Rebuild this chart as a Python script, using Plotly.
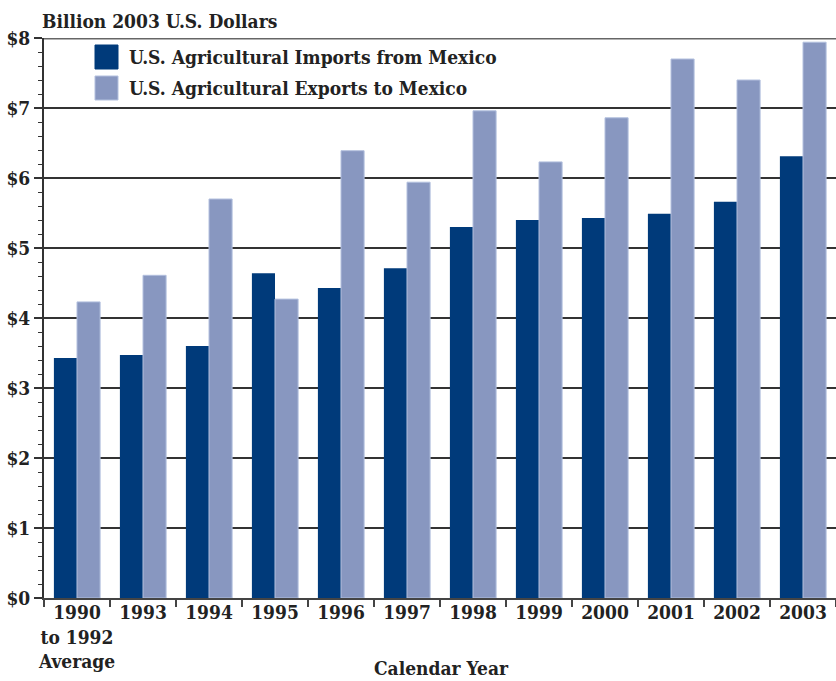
import plotly.graph_objects as go

categories = ["1990<br>to 1992<br>Average", "1993", "1994", "1995", "1996", "1997",
              "1998", "1999", "2000", "2001", "2002", "2003"]
imports_mx = [3.43, 3.47, 3.60, 4.64, 4.43, 4.71, 5.30, 5.40, 5.43, 5.49, 5.66, 6.31]
exports_mx = [4.23, 4.61, 5.70, 4.27, 6.39, 5.94, 6.96, 6.23, 6.86, 7.70, 7.40, 7.94]
y_ticks = [0, 1, 2, 3, 4, 5, 6, 7, 8]
y_labels = ["$" + str(v) for v in y_ticks]

C_IMP = "#003a7a"
C_EXP = "#8897c0"
FONT = "DejaVu Serif Condensed"
FS = 19

fig = go.Figure()
fig.add_trace(go.Bar(x=categories, y=imports_mx, name="U.S. Agricultural Imports from Mexico",
                     marker=dict(color=C_IMP, line=dict(width=0))))
fig.add_trace(go.Bar(x=categories, y=exports_mx, name="U.S. Agricultural Exports to Mexico",
                     marker=dict(color=C_EXP, line=dict(width=1, color="#b3c0de"))))

fig.update_layout(
    width=836, height=681,
    margin=dict(l=44, r=0, t=38, b=83),
    plot_bgcolor="white", paper_bgcolor="white",
    barmode="group", bargap=0.3, bargroupgap=0,
    showlegend=False,
    font=dict(family=FONT, size=FS, color="#222222"),
    xaxis=dict(
        type="category", tickson="boundaries", ticks="outside", ticklen=7,
        tickcolor="#444", tickwidth=2, showline=True, linecolor="#444", linewidth=2,
        showgrid=False, tickangle=0, automargin=False, ticklabelstandoff=-4,
        tickfont=dict(family=FONT, size=FS, color="#222"),
    ),
    yaxis=dict(
        range=[0, 8], tickvals=y_ticks, ticktext=["<b>%s</b>" % t for t in y_labels],
        ticks="outside", ticklen=8, tickcolor="#333", tickwidth=1.5,
        showline=True, linecolor="#333", linewidth=2,
        showgrid=True, gridcolor="#333", gridwidth=1.5, automargin=False,
        minor=dict(dtick=0.2, ticks="outside", ticklen=4, tickcolor="#333", tickwidth=1, showgrid=False),
        tickfont=dict(family=FONT, size=FS, color="#222"),
        zeroline=False,
    ),
)
fig.update_xaxes(ticktext=["<b>%s</b>" % c for c in categories], tickvals=categories)

# top border line at $8
fig.add_shape(type="line", xref="paper", yref="y", x0=0, x1=1, y0=8, y1=8,
              line=dict(color="#666", width=3))

# axis titles
fig.add_annotation(text="<b>Billion 2003 U.S. Dollars</b>", xref="paper", yref="paper",
                   x=-0.005, y=1.0, xanchor="left", yanchor="bottom", yshift=4,
                   showarrow=False, font=dict(family=FONT, size=FS, color="#222"))
fig.add_annotation(text="<b>Calendar Year</b>", xref="paper", yref="paper",
                   x=(442 - 44) / 792, y=0, xanchor="center", yanchor="middle", yshift=-70,
                   showarrow=False, font=dict(family=FONT, size=FS, color="#222"))

# custom legend
leg = [(C_IMP, "U.S. Agricultural Imports from Mexico", (598 - 57) / 560),
       (C_EXP, "U.S. Agricultural Exports to Mexico", (598 - 88) / 560)]
for col, txt, yc in leg:
    fig.add_shape(type="rect", xref="paper", yref="paper",
                  x0=(95 - 44) / 792, x1=(118 - 44) / 792, y0=yc - 12 / 560, y1=yc + 12 / 560,
                  fillcolor=col, line=dict(width=1, color="#b3c0de" if col == C_EXP else col))
    fig.add_annotation(text="<b>%s</b>" % txt, xref="paper", yref="paper",
                       x=(127 - 44) / 792, y=yc, xanchor="left", yanchor="middle",
                       showarrow=False, font=dict(family=FONT, size=FS, color="#222"))

fig.write_html("out.html")
